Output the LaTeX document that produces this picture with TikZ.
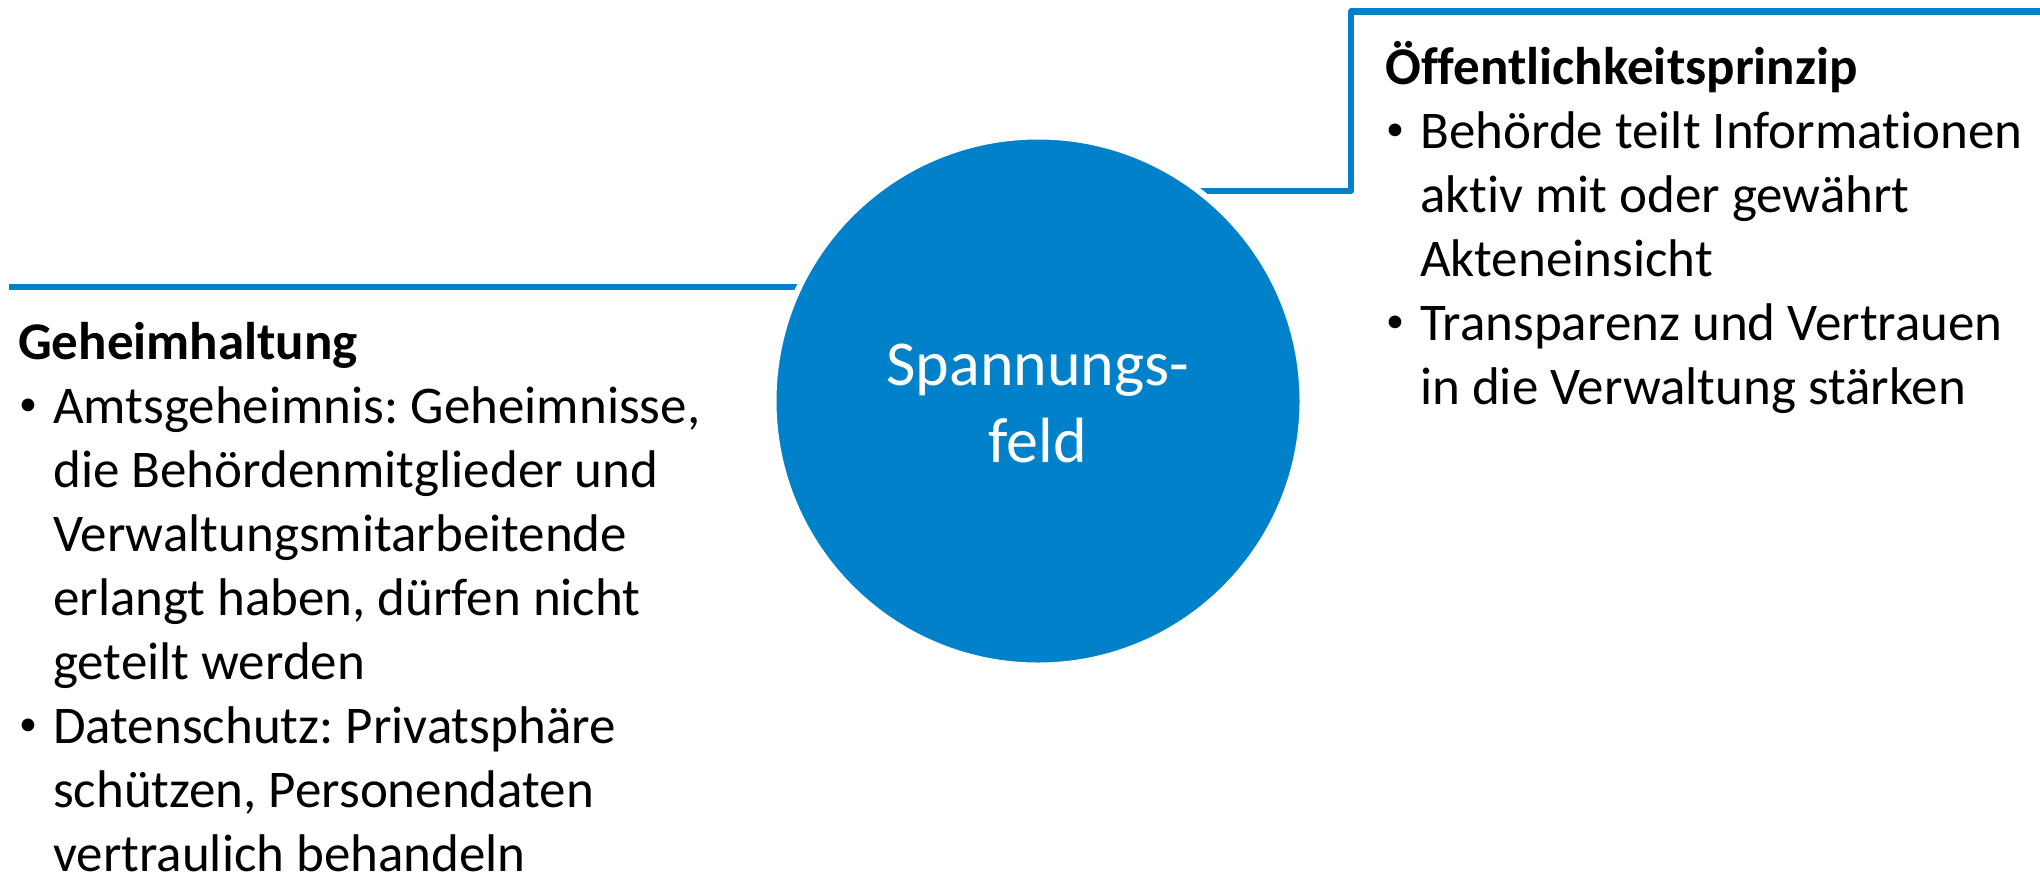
\documentclass[tikz,border=0pt]{standalone}
\usepackage{fontspec}
\setmainfont{Carlito}[Ligatures=NoCommon]
\definecolor{sfblue}{RGB}{0,129,201}
\frenchspacing
\begin{document}
\begin{tikzpicture}[x=1pt,y=-1pt,
  conn/.style={draw=sfblue, line width=6.5pt, line join=round},
  hub/.style={circle, fill=sfblue, draw=white, line width=6pt, minimum size=529pt, inner sep=0pt},
  hubtext/.style={anchor=base, inner sep=0pt, text=white, font=\fontsize{64}{77}\selectfont},
  block/.style={anchor=base west, inner sep=0pt, font=\fontsize{53}{64}\selectfont}]
\useasboundingbox (0,0) rectangle (2040,876);
\newcommand{\bul}{\makebox[35pt][l]{\hspace{1pt}\raisebox{8pt}{\fontsize{36}{36}\selectfont\textbullet}}}
\coordinate (cc) at (1038,401);
\coordinate (lstart) at (9,287);
\coordinate (r1) at (1351,191);
\coordinate (r2) at (1351,11.5);
\coordinate (rend) at (2040,11.5);
% connectors (drawn under the hub)
\draw[conn] (lstart) -- (cc |- lstart);
\draw[conn] (cc |- r1) -- (r1) -- (r2) -- (rend);
% hub
\node[hub] (hub) at (cc) {};
\node[hubtext] (hubt) at (1038,385) {\begin{tabular}[t]{@{}c@{}}Spannungs-\\feld\end{tabular}};
% left block
\node[block] (geh) at (18,359) {\begin{tabular}[t]{@{}l@{}l@{}}
\multicolumn{2}{@{}l@{}}{\bfseries Geheimhaltung}\\
\bul & Amtsgeheimnis: Geheimnisse,\\
 & die Behördenmitglieder und\\
 & Verwaltungsmitarbeitende\\
 & erlangt haben, dürfen nicht\\
 & geteilt werden\\
\bul & Datenschutz: Privatsphäre\\
 & schützen, Personendaten\\
 & vertraulich behandeln
\end{tabular}};
% right block
\node[block] (oef) at (1385,84) {\begin{tabular}[t]{@{}l@{}l@{}}
\multicolumn{2}{@{}l@{}}{\bfseries Öffentlichkeitsprinzip}\\
\bul & Behörde teilt Informationen\\
 & aktiv mit oder gewährt\\
 & Akteneinsicht\\
\bul & Transparenz und Vertrauen\\
 & in die Verwaltung stärken
\end{tabular}};
\end{tikzpicture}
\end{document}
